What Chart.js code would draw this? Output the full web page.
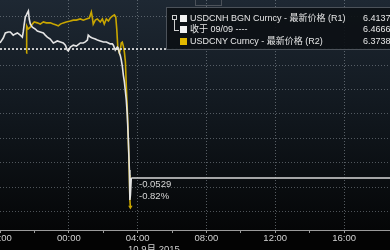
<!DOCTYPE html>
<html>
<head>
<meta charset="utf-8">
<script src="https://cdn.jsdelivr.net/npm/chart.js@4.4.0/dist/chart.umd.min.js"></script>
<style>
html,body{margin:0;padding:0;background:#000;overflow:hidden;}
#wrap{position:relative;width:390px;height:250px;overflow:hidden;font-family:"Liberation Sans","Noto Sans CJK SC",sans-serif;}
canvas{position:absolute;left:0;top:0;}
.t{position:absolute;white-space:nowrap;color:#e6e6e6;font-size:9px;line-height:11px;}
.sq{position:absolute;width:7px;height:7px;}
</style>
</head>
<body>
<div id="wrap">
<canvas id="c" width="390" height="250"></canvas>
<div id="btn" style="position:absolute;left:195px;top:-10px;width:25px;height:14px;border:1px solid #4c525a;"></div>
<div id="legend" style="position:absolute;left:166px;top:7px;width:240px;height:41px;background:rgba(12,16,21,0.92);border:1px solid #4c525a;"></div>
<div style="position:absolute;left:172px;top:15px;width:3px;height:3px;border:1px solid #cfcfcf;"></div>
<div style="position:absolute;left:174px;top:20px;width:1px;height:11px;background:#cfcfcf;"></div>
<div style="position:absolute;left:174px;top:30px;width:5px;height:1px;background:#cfcfcf;"></div>
<div class="sq" style="left:180px;top:15px;background:#f2f2f2;"></div>
<div class="sq" style="left:180px;top:26px;background:#f2f2f2;"></div>
<div class="sq" style="left:180px;top:38px;background:#e2b800;"></div>
<div class="t" id="l1" style="left:190px;top:13px;"></div>
<div class="t" id="l2" style="left:190px;top:24px;"></div>
<div class="t" id="l3" style="left:190px;top:36px;"></div>
<div class="t" id="v1" style="left:363px;top:13px;"></div>
<div class="t" id="v2" style="left:363px;top:24px;"></div>
<div class="t" id="v3" style="left:363px;top:36px;"></div>
<div class="t" id="a1" style="left:139px;top:178px;font-size:9.5px;color:#d8d8d8;"></div>
<div class="t" id="a2" style="left:139px;top:190px;font-size:9.5px;color:#d8d8d8;"></div>
<div class="t" id="dt" style="left:128px;top:243px;font-size:9.5px;color:#d0d0d0;"></div>
</div>
<script>
// ---- data (hours relative to 00:00 on 10 Sep 2015) ----
const cnhTime = [-4.00,-3.81,-3.69,-3.52,-3.40,-3.23,-3.11,-2.99,-2.82,-2.70,-2.65,-2.59,-2.53,-2.47,-2.41,-2.35,-2.30,-2.24,-2.12,-1.95,-1.83,-1.66,-1.48,-1.37,-1.25,-1.08,-0.90,-0.78,-0.67,-0.49,-0.32,-0.20,-0.09,-0.03,0.09,0.26,0.44,0.67,0.84,0.96,1.08,1.13,1.25,1.37,1.54,1.66,1.83,2.01,2.18,2.30,2.41,2.53,2.59,2.70,2.82,2.88,2.94,2.99,3.05,3.11,3.17,3.23,3.28,3.34,3.40,3.46,3.52,3.55,3.58,3.63];
const cnhValue = [6.4691,6.4711,6.4732,6.4736,6.4736,6.4723,6.4728,6.4732,6.4723,6.4715,6.4736,6.4769,6.4797,6.4805,6.4814,6.4822,6.4789,6.4769,6.4756,6.4748,6.4740,6.4736,6.4732,6.4723,6.4715,6.4707,6.4691,6.4695,6.4699,6.4695,6.4691,6.4682,6.4662,6.4658,6.4674,6.4682,6.4678,6.4691,6.4691,6.4695,6.4703,6.4723,6.4715,6.4711,6.4707,6.4703,6.4699,6.4695,6.4695,6.4691,6.4687,6.4687,6.4682,6.4662,6.4674,6.4670,6.4650,6.4641,6.4621,6.4596,6.4559,6.4531,6.4498,6.4457,6.4395,6.4293,6.4170,6.4047,6.4067,6.4137];
const cnyTime = [-2.47,-2.45,-2.36,-2.24,-2.12,-2.01,-1.83,-1.66,-1.48,-1.31,-1.08,-0.90,-0.73,-0.61,-0.49,-0.32,-0.15,0.09,0.26,0.44,0.67,0.84,1.02,1.19,1.31,1.37,1.42,1.54,1.66,1.83,1.95,2.06,2.18,2.30,2.41,2.53,2.65,2.73,2.79,2.85,2.94,2.99,3.05,3.11,3.17,3.23,3.29,3.34,3.40,3.46,3.52,3.55,3.58];
const cnyValue = [6.37885,6.37974,6.37964,6.37970,6.37980,6.37987,6.37984,6.37980,6.37987,6.37984,6.37984,6.37980,6.37977,6.37974,6.37980,6.37984,6.37987,6.37990,6.37993,6.37993,6.37997,6.37993,6.37997,6.38000,6.38020,6.38000,6.37980,6.37993,6.37997,6.37987,6.37997,6.37980,6.37997,6.37990,6.38000,6.38006,6.38010,6.38003,6.37961,6.37902,6.37885,6.37895,6.37918,6.37921,6.37908,6.37888,6.37856,6.37780,6.37698,6.37600,6.37485,6.37403,6.37380];
const prevCloseCNH = 6.4666;
const lastCNH = 6.4137;
const lastCNY = 6.3738;
const changeAbs = '-0.0529';
const changePct = '-0.82%';
const xTickHours = [-4, 0, 4, 8, 12, 16];
const xTickLabels = ['20:00', '00:00', '04:00', '08:00', '12:00', '16:00'];
const yGridValues = [6.40, 6.41, 6.42, 6.43, 6.44, 6.45, 6.46, 6.48];
const legendLabels = ['USDCNH BGN Curncy - 最新价格 (R1)', '收于 09/09 ----', 'USDCNY Curncy - 最新价格 (R2)'];
const legendValues = [lastCNH.toFixed(4), prevCloseCNH.toFixed(4), lastCNY.toFixed(4)];
const dateLabel = '10 9月 2015';

// ---- text ----
['l1','l2','l3'].forEach((id,i)=>document.getElementById(id).textContent = legendLabels[i]);
['v1','v2','v3'].forEach((id,i)=>document.getElementById(id).textContent = legendValues[i]);
document.getElementById('a1').textContent = changeAbs;
document.getElementById('a2').textContent = changePct;
document.getElementById('dt').textContent = dateLabel;

const X_MIN = -4, X_MAX = 18.67, SPLIT = 5.74;
const cnhPts = cnhTime.map((t,i)=>({x:t, y:cnhValue[i]}));
const cnyPts = cnyTime.map((t,i)=>({x:t, y:cnyValue[i]}));
const lastT = cnhTime[cnhTime.length-1];

const bgPlugin = {
  id: 'bg',
  beforeDraw(chart){
    const {ctx, chartArea:a} = chart;
    ctx.save();
    ctx.fillStyle = '#030303';
    ctx.fillRect(0,0,chart.width,chart.height);
    const g = ctx.createLinearGradient(0,a.top,0,a.bottom);
    g.addColorStop(0,'#1e2833');
    g.addColorStop(0.45,'#121920');
    g.addColorStop(1,'#050607');
    ctx.fillStyle = g;
    ctx.fillRect(a.left,a.top,a.width,a.height);
    ctx.restore();
  }
};

new Chart(document.getElementById('c'), {
  type: 'line',
  data: {
    datasets: [
      { label:'prev', data:[{x:X_MIN,y:prevCloseCNH},{x:SPLIT,y:prevCloseCNH},{x:X_MAX,y:prevCloseCNH}], yAxisID:'y',
        borderWidth:1.6, borderDash:[2,2], pointRadius:0,
        segment:{ borderColor: c => c.p0.parsed.x >= SPLIT ? 'rgba(170,175,180,0.7)' : '#f0f0f0' } },
      { label:'last', data:[{x:lastT,y:lastCNH},{x:X_MAX,y:lastCNH}], yAxisID:'y',
        borderColor:'#d8d8d8', borderWidth:1.5, pointRadius:0 },
      { label:'USDCNH', data:cnhPts, yAxisID:'y', borderColor:'#e4e4e4', borderWidth:1.6, pointRadius:0 },
      { label:'USDCNY', data:cnyPts, yAxisID:'y2', borderColor:'#c9a600', borderWidth:1.6,
        pointRadius: cnyPts.map((p,i)=> i===cnyPts.length-1 ? 2.5 : 0),
        pointStyle:'triangle', rotation:180, pointBackgroundColor:'#c9a600', pointBorderWidth:0 }
    ]
  },
  options: {
    responsive:false, animation:false, devicePixelRatio:1,
    layout:{ padding:0, autoPadding:false },
    plugins:{ legend:{display:false}, tooltip:{enabled:false} },
    elements:{ line:{ tension:0 } },
    scales:{
      x:{
        type:'linear', min:X_MIN, max:X_MAX,
        ticks:{ stepSize:2, autoSkip:false, maxRotation:0, padding:0, color:'#d0d0d0',
          font:{family:'Liberation Sans', size:9.5},
          callback: v => { const i = xTickHours.indexOf(v); return i>=0 ? xTickLabels[i] : ''; } },
        afterBuildTicks: s => { s.ticks = s.ticks.filter(t => Number.isInteger(t.value) && t.value % 2 === 0); },
        afterFit: s => { s.height = 20; s.paddingLeft = 0; s.paddingRight = 0; },
        grid:{ color: c => (c.tick && xTickHours.includes(c.tick.value) && c.tick.value !== X_MIN) ? 'rgba(150,158,166,0.55)' : 'rgba(0,0,0,0)',
          tickColor:'#9a9a9a', tickLength:3, lineWidth:1 },
        border:{ display:true, color:'#9a9a9a', width:1, dash:[1,2] }
      },
      y:{
        type:'linear', position:'left', min:6.3924, max:6.4867,
        afterBuildTicks: s => { s.ticks = yGridValues.map(v=>({value:v})); },
        afterFit: s => { s.width = 0; s.paddingTop = 0; s.paddingBottom = 0; },
        ticks:{ display:false },
        grid:{ color:'rgba(150,158,166,0.5)', drawTicks:false, lineWidth:1 },
        border:{ display:false, dash:[1,2] }
      },
      y2:{ type:'linear', position:'right', display:false, min:6.37305, max:6.38059 }
    }
  },
  plugins:[bgPlugin]
});
</script>
</body>
</html>
